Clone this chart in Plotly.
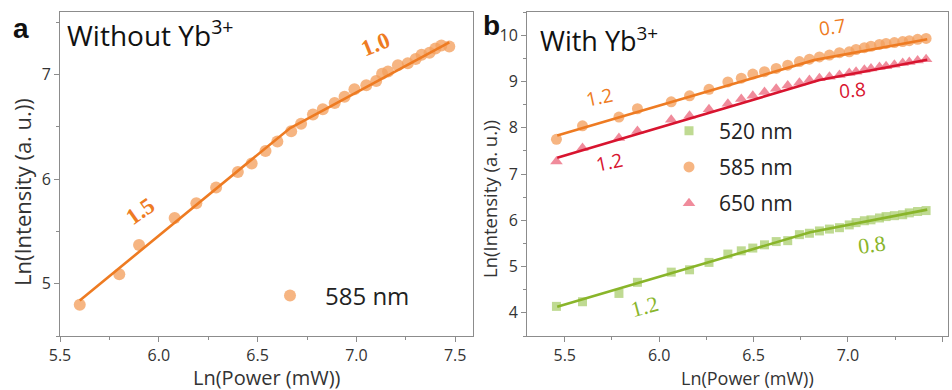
import plotly.graph_objects as go

# ---------------- data ----------------
# Panel a (without Yb3+), 585 nm
a_x = [5.60, 5.80, 5.90, 6.08, 6.19, 6.29, 6.40, 6.47, 6.54, 6.60, 6.67, 6.72, 6.78, 6.83,
       6.89, 6.94, 6.99, 7.05, 7.10, 7.13, 7.16, 7.21, 7.26, 7.30, 7.33, 7.37, 7.40, 7.43, 7.47]
a_y = [4.80, 5.09, 5.37, 5.63, 5.77, 5.92, 6.07, 6.15, 6.27, 6.36, 6.46, 6.53, 6.62, 6.67,
       6.73, 6.79, 6.86, 6.90, 6.94, 7.01, 7.03, 7.09, 7.11, 7.15, 7.19, 7.21, 7.25, 7.28, 7.27]
a_fit_x = [5.60, 6.665, 7.47]
a_fit_y = [4.84, 6.49, 7.31]

# Panel b (with Yb3+)
b_x = [5.456, 5.594, 5.787, 5.885, 6.064, 6.161, 6.264, 6.364, 6.435, 6.496, 6.558, 6.620,
       6.681, 6.743, 6.796, 6.849, 6.902, 6.955, 7.007, 7.043, 7.087, 7.122, 7.167, 7.202,
       7.246, 7.290, 7.325, 7.369, 7.414]
b_520 = [4.14, 4.24, 4.42, 4.66, 4.88, 4.93, 5.09, 5.27, 5.34, 5.40, 5.47, 5.54, 5.56, 5.69,
         5.72, 5.77, 5.81, 5.84, 5.90, 5.95, 5.99, 6.01, 6.05, 6.08, 6.10, 6.12, 6.16, 6.19, 6.21]
b_585 = [7.75, 8.04, 8.23, 8.41, 8.56, 8.69, 8.83, 8.99, 9.07, 9.16, 9.21, 9.28, 9.35, 9.43,
         9.48, 9.53, 9.57, 9.62, 9.64, 9.69, 9.73, 9.76, 9.80, 9.82, 9.84, 9.86, 9.88, 9.91, 9.93]
b_650 = [7.27, 7.56, 7.78, 7.93, 8.17, 8.26, 8.40, 8.52, 8.62, 8.69, 8.77, 8.84, 8.91, 8.97,
         9.03, 9.07, 9.10, 9.14, 9.18, 9.21, 9.25, 9.28, 9.31, 9.33, 9.36, 9.40, 9.42, 9.45, 9.48]
fit_x_520 = [5.46, 6.80, 7.42]
fit_y_520 = [4.13, 5.74, 6.23]
fit_x_585 = [5.46, 6.82, 7.42]
fit_y_585 = [7.83, 9.46, 9.91]
fit_x_650 = [5.46, 6.85, 7.42]
fit_y_650 = [7.35, 9.03, 9.47]

x_ticks = [5.5, 6.0, 6.5, 7.0, 7.5]
x_ticklabels = ["5.5", "6.0", "6.5", "7.0", "7.5"]
a_yticks = [5, 6, 7]
b_yticks = [4, 5, 6, 7, 8, 9, 10]

# ---------------- styles ----------------
OR_LINE = "#EE7B22"
OR_MARK = "rgba(244,160,95,0.78)"
RD_LINE = "#D8142F"
RD_MARK = "rgba(236,110,130,0.80)"
GR_LINE = "#89B52A"
GR_MARK = "rgba(170,205,110,0.75)"
AX = "#8c8c8c"
FONT = "Open Sans"

H, W = 390, 952
def fx(px):
    return px / W
def fy(py):
    return 1 - py / H

fig = go.Figure()

# Panel a
fig.add_trace(go.Scatter(x=a_x, y=a_y, mode="markers", name="585 nm",
                         marker=dict(symbol="circle", size=12, color=OR_MARK),
                         xaxis="x", yaxis="y", legend="legend"))
fig.add_trace(go.Scatter(x=a_fit_x, y=a_fit_y, mode="lines", showlegend=False,
                         line=dict(color=OR_LINE, width=2.6), xaxis="x", yaxis="y"))

# Panel b
fig.add_trace(go.Scatter(x=b_x, y=b_520, mode="markers", name="520 nm", legendgroup="g1",
                         marker=dict(symbol="square", size=9, color=GR_MARK),
                         xaxis="x2", yaxis="y2", legend="legend2"))
fig.add_trace(go.Scatter(x=b_x, y=b_585, mode="markers", name="585 nm", legendgroup="g2",
                         marker=dict(symbol="circle", size=11, color=OR_MARK),
                         xaxis="x2", yaxis="y2", legend="legend2"))
fig.add_trace(go.Scatter(x=b_x, y=b_650, mode="markers", name="650 nm", legendgroup="g3",
                         marker=dict(symbol="triangle-up", size=11, color=RD_MARK),
                         xaxis="x2", yaxis="y2", legend="legend2"))
for fxs, fys, c in [(fit_x_520, fit_y_520, GR_LINE), (fit_x_585, fit_y_585, OR_LINE),
                    (fit_x_650, fit_y_650, RD_LINE)]:
    fig.add_trace(go.Scatter(x=fxs, y=fys, mode="lines", showlegend=False,
                             line=dict(color=c, width=2.6), xaxis="x2", yaxis="y2"))

ydom = [fy(336), fy(12)]
common_axis = dict(showline=True, linecolor=AX, linewidth=1, mirror=True, ticks="outside",
                   ticklen=5, tickcolor=AX, showgrid=False, zeroline=False, automargin=False,
                   tickfont=dict(family=FONT, size=16, color="#333333"))

fig.update_layout(
    width=W, height=H, margin=dict(l=0, r=0, t=0, b=0),
    paper_bgcolor="white", plot_bgcolor="white",
    font=dict(family=FONT, color="#222222"),
    xaxis=dict(domain=[fx(60), fx(473)], range=[5.5, 7.59], anchor="y",
               tickvals=x_ticks, ticktext=x_ticklabels,
               minor=dict(dtick=0.25, tick0=5.5, ticks="outside", ticklen=3, tickcolor=AX),
               **common_axis),
    yaxis=dict(domain=ydom, range=[4.5, 7.6], anchor="x", tickvals=a_yticks,
               minor=dict(dtick=0.5, tick0=4.5, ticks="outside", ticklen=3, tickcolor=AX),
               **common_axis),
    xaxis2=dict(domain=[fx(527), fx(948)], range=[5.30, 7.53], anchor="y2",
                tickvals=x_ticks, ticktext=x_ticklabels,
                minor=dict(dtick=0.25, tick0=5.5, ticks="outside", ticklen=3, tickcolor=AX),
                **common_axis),
    yaxis2=dict(domain=ydom, range=[3.5, 10.5], anchor="x2", tickvals=b_yticks,
                minor=dict(dtick=0.5, tick0=3.5, ticks="outside", ticklen=3, tickcolor=AX),
                **common_axis),
    legend=dict(x=fx(255), y=fy(296), xanchor="left", yanchor="middle",
                bgcolor="rgba(0,0,0,0)", itemwidth=60,
                font=dict(family=FONT, size=24, color="#222222")),
    legend2=dict(x=fx(659), y=fy(167), xanchor="left", yanchor="middle",
                 bgcolor="rgba(0,0,0,0)", itemwidth=50, tracegroupgap=6,
                 font=dict(family=FONT, size=21, color="#222222")),
)

ann = []
def pann(text, px, py, size, family=FONT, color="#111", xanchor="center", angle=0):
    ann.append(dict(text=text, x=fx(px), y=fy(py), xref="paper", yref="paper",
                    xanchor=xanchor, yanchor="middle", textangle=angle, showarrow=False,
                    font=dict(family=family, size=size, color=color)))

# panel letters
pann("<b>a</b>", 21, 29, 28, family="Liberation Sans")
pann("<b>b</b>", 491, 26, 28, family="Liberation Sans")
# titles
pann("Without Yb<sup>3+</sup>", 65, 33, 28, xanchor="left")
pann("With Yb<sup>3+</sup>", 538, 40, 27, xanchor="left")
# axis titles
pann("Ln(Power (mW))", 267, 377, 20, color="#333")
pann("Ln(Power (mW))", 747, 377.5, 18, color="#333")
pann("Ln(Intensity (a. u.))", 22, 192, 22, color="#333", angle=-90)
pann("Ln(Intensity (a. u.))", 489, 199, 18.5, color="#333", angle=-90)

# slope labels
SERIF = "Liberation Serif"
def dann(text, x, y, xr, yr, angle, size, family, color):
    ann.append(dict(text=text, x=x, y=y, xref=xr, yref=yr, textangle=angle,
                    xanchor="center", yanchor="middle", showarrow=False,
                    font=dict(family=family, size=size, color=color)))

dann("<b>1.5</b>", 5.905, 5.69, "x", "y", -35, 23, SERIF, OR_LINE)
dann("<b>1.0</b>", 7.096, 7.29, "x", "y", -22, 23, SERIF, OR_LINE)
dann("1.2", 5.685, 8.66, "x2", "y2", -12, 19, FONT, OR_LINE)
dann("0.7", 6.918, 10.17, "x2", "y2", -8, 19, FONT, OR_LINE)
dann("1.2", 5.738, 7.26, "x2", "y2", -12, 19, FONT, RD_LINE)
dann("0.8", 7.024, 8.81, "x2", "y2", -5, 19, FONT, RD_LINE)
dann("1.2", 5.923, 4.13, "x2", "y2", -15, 22, SERIF, GR_LINE)
dann("0.8", 7.13, 5.47, "x2", "y2", -8, 22, SERIF, GR_LINE)
fig.update_layout(annotations=ann)

fig.write_html("out.html")
